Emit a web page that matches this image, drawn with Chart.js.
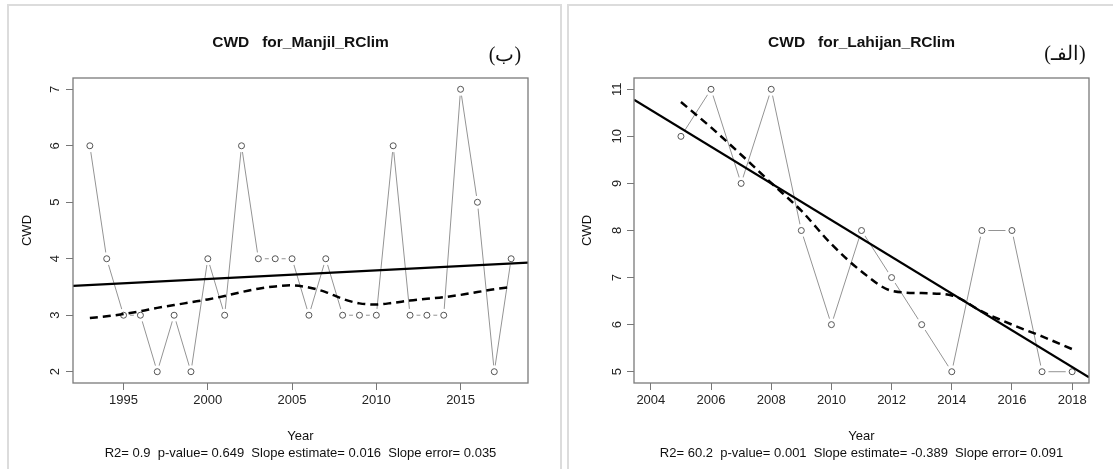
<!DOCTYPE html>
<html><head><meta charset="utf-8">
<script src="https://cdn.jsdelivr.net/npm/chart.js@4.4.1/dist/chart.umd.min.js"></script>
<style>
html,body{margin:0;padding:0;background:#fff;width:1113px;height:469px;overflow:hidden;position:relative}
.panel{position:absolute;top:4px;height:490px;border:2px solid #dcdcdc;box-sizing:border-box}
.wrap{position:absolute;top:0;height:469px}
.tag{position:absolute;font-family:"Liberation Serif","DejaVu Serif",serif;font-size:20px;color:#111;line-height:1;transform:translate(-50%,-50%);white-space:nowrap}
</style></head><body>
<div class="panel" style="left:7px;width:555px"></div>
<div class="panel" style="left:567px;width:570px"></div>
<div class="wrap" style="left:0;width:560px"><canvas id="c1" width="560" height="469"></canvas></div>
<div class="wrap" style="left:562px;width:551px"><canvas id="c2" width="551" height="469"></canvas></div>
<div class="tag" dir="rtl" style="left:505px;top:54px">(ب)</div>
<div class="tag" dir="rtl" style="left:1065px;top:53px">(الفـ)</div>
<script>
// ---- Manjil (left panel) ----
const manjilTitle = 'CWD   for_Manjil_RClim';
const manjilStats = 'R2= 0.9  p-value= 0.649  Slope estimate= 0.016  Slope error= 0.035';
const manjilYears = [1993,1994,1995,1996,1997,1998,1999,2000,2001,2002,2003,2004,2005,2006,2007,2008,2009,2010,2011,2012,2013,2014,2015,2016,2017,2018];
const manjilCWD   = [6,4,3,3,2,3,2,4,3,6,4,4,4,3,4,3,3,3,6,3,3,3,7,5,2,4];
const manjilLoess = [2.95,2.98,3.02,3.07,3.13,3.18,3.23,3.28,3.34,3.41,3.47,3.51,3.53,3.49,3.41,3.29,3.21,3.19,3.22,3.26,3.29,3.32,3.36,3.41,3.46,3.50];
const manjilTrendX = [1992,2019];
const manjilTrendY = [3.52,3.93];
const manjilXTicks = [1995,2000,2005,2010,2015];
const manjilYTicks = [2,3,4,5,6,7];

// ---- Lahijan (right panel) ----
const lahijanTitle = 'CWD   for_Lahijan_RClim';
const lahijanStats = 'R2= 60.2  p-value= 0.001  Slope estimate= -0.389  Slope error= 0.091';
const lahijanYears = [2005,2006,2007,2008,2009,2010,2011,2012,2013,2014,2015,2016,2017,2018];
const lahijanCWD   = [10,11,9,11,8,6,8,7,6,5,8,8,5,5];
const lahijanLoess = [10.73,10.19,9.61,9.01,8.42,7.71,7.13,6.72,6.67,6.62,6.28,6.00,5.75,5.48];
const lahijanTrendX = [2003.44,2018.56];
const lahijanTrendY = [10.78,4.88];
const lahijanXTicks = [2004,2006,2008,2010,2012,2014,2016,2018];
const lahijanYTicks = [5,6,7,8,9,10,11];

const FONT = 'Liberation Sans, Arial, sans-serif';
const zip = (xs, ys) => xs.map((x, i) => ({x: x, y: ys[i]}));

const boxPlugin = {
  id: 'rbox',
  afterDatasetsDraw(chart) {
    const a = chart.chartArea, ctx = chart.ctx;
    ctx.save();
    ctx.strokeStyle = '#7a7a7a';
    ctx.lineWidth = 1.3;
    ctx.strokeRect(a.left, a.top, a.right - a.left, a.bottom - a.top);
    ctx.restore();
  }
};

function makeChart(id, s) {
  const pts = zip(s.years, s.vals);
  return new Chart(document.getElementById(id), {
    type: 'scatter',
    data: {
      datasets: [
        {data: pts, showLine: true, borderColor: '#949494', borderWidth: 1, pointRadius: 0, order: 5},
        {data: pts, showLine: false, pointRadius: 6.5, pointBackgroundColor: '#ffffff', pointBorderWidth: 0, order: 4},
        {data: pts, showLine: false, pointRadius: 3, pointBackgroundColor: 'rgba(0,0,0,0)', pointBorderColor: '#555', pointBorderWidth: 1, order: 3},
        {data: zip(s.years, s.loess), showLine: true, borderColor: '#000', borderWidth: 2.5, borderDash: [8,5], pointRadius: 0, cubicInterpolationMode: 'monotone', order: 2},
        {data: zip(s.trendX, s.trendY), showLine: true, borderColor: '#000', borderWidth: 2.3, pointRadius: 0, order: 1}
      ]
    },
    options: {
      responsive: false, animation: false, devicePixelRatio: 1,
      layout: {padding: {left: 8, right: s.padR, top: 0, bottom: 7.5}},
      plugins: {
        legend: {display: false}, tooltip: {enabled: false},
        title: {display: true, fullSize: false, text: s.title, color: '#111',
                font: {family: FONT, size: 15.5, weight: 'bold', lineHeight: 1.2},
                padding: {top: 33.7, bottom: 25.7}}
      },
      scales: {
        x: {
          type: 'linear', min: s.xmin, max: s.xmax,
          afterBuildTicks: sc => { sc.ticks = s.xTicks.map(v => ({value: v})); },
          afterFit: sc => { sc.height = 78.5; },
          grid: {drawOnChartArea: false, drawTicks: true, tickLength: 7, tickColor: '#777', color: '#777'},
          border: {display: false},
          ticks: {font: {family: FONT, size: 13}, color: '#222', padding: 3, maxRotation: 0, autoSkip: false, callback: v => String(v)},
          title: {display: true, text: ['Year', s.stats], color: '#111', font: {family: FONT, size: 13, lineHeight: '17px'}, padding: {top: 0, bottom: 0}}
        },
        y: {
          type: 'linear', min: s.ymin, max: s.ymax,
          afterBuildTicks: sc => { sc.ticks = s.yTicks.map(v => ({value: v})); },
          afterFit: sc => { sc.width = s.yW; },
          grid: {drawOnChartArea: false, drawTicks: true, tickLength: 7, tickColor: '#777', color: '#777'},
          border: {display: false},
          ticks: {font: {family: FONT, size: 13}, color: '#222', padding: s.yPad, minRotation: 90, maxRotation: 90, crossAlign: 'center', autoSkip: false, callback: v => String(v)},
          title: {display: true, text: 'CWD', color: '#111', font: {family: FONT, size: 13, lineHeight: 1.2}, padding: {top: s.yTitlePad, bottom: 0}}
        }
      }
    },
    plugins: [boxPlugin]
  });
}

makeChart('c1', {
  title: manjilTitle, stats: manjilStats, years: manjilYears, vals: manjilCWD, loess: manjilLoess,
  trendX: manjilTrendX, trendY: manjilTrendY, xTicks: manjilXTicks, yTicks: manjilYTicks,
  xmin: 1992, xmax: 2019, ymin: 1.8, ymax: 7.2, padR: 32, yW: 65, yPad: 7.4, yTitlePad: 11.2
});
makeChart('c2', {
  title: lahijanTitle, stats: lahijanStats, years: lahijanYears, vals: lahijanCWD, loess: lahijanLoess,
  trendX: lahijanTrendX, trendY: lahijanTrendY, xTicks: lahijanXTicks, yTicks: lahijanYTicks,
  xmin: 2003.44, xmax: 2018.56, ymin: 4.76, ymax: 11.24, padR: 24, yW: 64, yPad: 2.8, yTitlePad: 9.2
});
</script>
</body></html>
